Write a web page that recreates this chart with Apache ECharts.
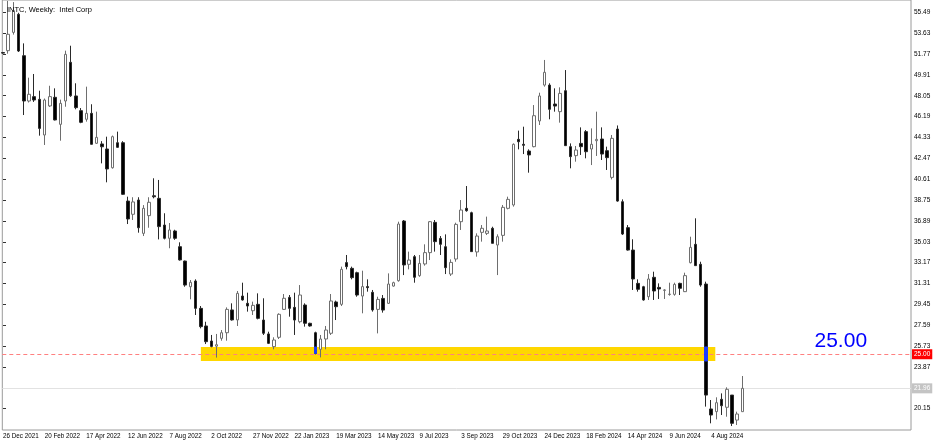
<!DOCTYPE html>
<html><head><meta charset="utf-8">
<script src="https://cdn.jsdelivr.net/npm/echarts@6/dist/echarts.min.js"></script>
<style>html,body{margin:0;padding:0;background:#fff}#c{width:936px;height:442px}</style>
</head><body><div id="c"></div><script>
// ---- data (weekly INTC) ----
const startDate = Date.UTC(2021, 11, 26);
const open = [51.9,52.07,53.70,55.31,51.62,47.58,47.97,47.73,44.55,47.14,
47.91,45.50,47.58,51.03,48.03,46.72,45.95,46.48,43.81,43.75,
43.30,41.63,43.86,43.86,38.66,37.48,38.75,35.78,37.36,39.13,
38.90,36.52,35.34,35.99,34.59,33.31,31.02,31.53,29.09,27.52,
26.18,25.72,26.42,26.92,28.95,28.06,30.19,29.54,28.88,29.45,
28.05,26.81,25.68,26.51,29.00,30.07,29.18,27.90,29.39,27.76,
26.92,25.44,26.36,26.87,29.66,29.45,33.17,32.66,32.27,30.19,
31.03,30.52,29.00,29.98,29.54,31.08,31.56,36.88,33.02,33.70,
32.01,33.05,34.06,36.76,35.33,34.59,32.15,33.49,36.82,38.01,
37.62,34.12,35.87,35.78,36.23,34.74,35.60,38.01,38.31,44.16,
43.72,43.12,43.51,45.80,49.00,49.00,47.31,46.63,48.50,43.51,
42.71,43.80,44.85,43.30,44.04,44.19,43.15,40.77,45.08,38.60,
36.29,34.29,31.32,31.02,30.13,31.86,30.96,30.70,30.33,30.34,
31.32,30.58,33.16,34.80,33.02,31.26,20.12,19.88,20.98,20.27,
21.36,19.13,19.88];
const high = [51.95,56.5,56.4,55.45,52.72,49.66,49.99,48.50,47.80,48.94,
48.71,47.70,52.07,52.51,49.16,46.95,48.86,47.29,46.63,44.00,
44.40,44.50,44.85,44.00,39.05,39.00,39.00,38.30,39.00,40.69,
40.54,37.57,36.70,36.10,34.98,33.35,31.62,31.68,29.30,27.90,
26.72,26.81,27.16,29.18,29.54,30.64,31.38,30.49,29.69,30.43,
29.99,27.01,26.51,28.65,30.37,30.28,30.49,31.17,29.54,27.81,
27.01,26.72,27.52,30.37,29.78,32.81,33.85,32.81,32.36,32.45,
31.68,30.73,30.13,30.28,32.21,31.47,36.82,36.97,34.15,33.85,
33.85,34.80,36.88,36.97,35.54,35.69,33.46,36.73,38.75,40.00,
37.71,35.78,36.52,37.27,36.37,35.69,38.31,39.05,43.80,44.94,
45.29,43.27,47.22,48.32,51.24,49.16,48.71,48.80,50.34,43.80,
43.57,45.23,44.99,45.14,46.63,45.23,43.51,44.55,45.40,38.81,
36.52,35.25,31.68,31.10,32.15,32.36,31.32,30.79,31.38,31.38,
31.38,32.27,35.48,37.12,33.25,31.47,20.92,21.16,21.51,22.05,
21.36,19.88,23.06];
const low = [51.8,51.8,53.5,51.95,46.33,47.45,47.50,44.49,43.66,47.05,
45.85,44.04,47.07,47.95,46.84,45.60,45.74,43.70,43.75,42.02,
40.33,41.55,43.40,39.20,36.61,36.97,35.84,35.54,36.28,38.90,
35.24,35.24,34.45,35.20,33.35,31.02,29.90,28.50,27.31,25.91,
25.62,24.70,26.21,26.21,28.00,27.52,29.78,28.80,28.50,28.11,
26.72,25.91,25.44,26.36,28.95,28.35,26.72,27.76,27.46,27.46,
24.99,24.72,25.44,26.72,28.05,29.30,32.57,31.68,30.13,28.65,
30.58,28.80,26.86,28.71,29.48,31.03,31.47,32.06,32.57,31.38,
31.90,32.90,33.40,34.15,33.85,32.15,31.98,33.25,36.08,37.71,
34.15,33.70,35.04,35.63,34.89,32.06,35.04,37.92,38.16,43.27,
42.85,41.19,43.45,45.44,48.86,45.95,46.63,45.65,43.60,41.58,
42.17,42.77,42.47,41.87,42.68,42.32,41.43,40.59,38.60,35.63,
34.24,30.73,30.58,29.78,29.84,29.84,29.93,29.93,30.22,30.22,
30.28,30.55,33.10,32.90,31.02,20.33,18.84,19.19,19.58,19.43,
18.60,18.69,19.88];
const close = [51.85,53.53,55.63,52.04,47.58,48.18,47.67,45.14,47.67,47.97,
45.89,47.37,51.74,48.05,46.99,45.68,46.48,43.72,44.34,43.50,
41.52,44.40,43.45,39.26,37.06,38.58,36.28,38.01,38.55,39.04,
36.38,35.34,36.08,35.34,33.41,31.17,31.41,29.09,27.46,26.12,
25.70,25.85,26.92,29.00,28.06,30.43,29.84,29.30,29.36,28.20,
26.87,25.97,26.27,28.56,29.99,29.09,28.05,30.28,27.76,27.52,
25.08,26.36,27.16,29.75,29.24,32.57,32.81,31.83,30.28,31.03,
30.94,28.95,29.89,28.94,31.26,31.38,36.61,32.96,33.40,31.86,
33.10,34.06,36.82,35.04,34.80,32.72,33.19,36.58,37.86,37.80,
34.15,35.54,36.23,35.99,34.89,35.48,38.10,38.81,43.72,43.95,
43.63,42.77,46.27,48.03,50.14,46.84,47.13,48.26,43.60,42.62,
43.21,43.51,43.06,43.72,44.16,42.85,42.53,44.25,38.66,35.72,
34.29,31.71,30.79,29.84,31.71,30.64,30.82,30.73,30.36,31.23,
30.88,32.01,34.53,32.90,31.17,21.36,19.58,20.68,20.41,21.87,
18.84,19.67,21.96];
const xTickLabels = ['26 Dec 2021','20 Feb 2022','17 Apr 2022','12 Jun 2022','7 Aug 2022','2 Oct 2022',
'27 Nov 2022','22 Jan 2023','19 Mar 2023','14 May 2023','9 Jul 2023','3 Sep 2023','29 Oct 2023',
'24 Dec 2023','18 Feb 2024','14 Apr 2024','9 Jun 2024','4 Aug 2024'];
const xTickStep = 8;
const yTickValues = [55.49,53.63,51.77,49.91,48.05,46.19,44.33,42.47,40.61,38.75,36.89,35.03,
33.17,31.31,29.45,27.59,25.73,23.87,20.15];
const levelPrice = 25.00;
const lastPrice = 21.96;
const zone = {fromBar: 38, toBar: 136.8, top: 25.645, bottom: 24.40};
const labelBar = 160.9;

// ---- derived ----
const mon = ['Jan','Feb','Mar','Apr','May','Jun','Jul','Aug','Sep','Oct','Nov','Dec'];
const categories = open.map((_, i) => {
  const d = new Date(startDate + i * 7 * 86400000);
  return d.getUTCDate() + ' ' + mon[d.getUTCMonth()] + ' ' + d.getUTCFullYear();
});
const candles = open.map((o, i) => [i, o, close[i], low[i], high[i]]);
const overlay = [];
open.forEach((o, i) => {
  if (i < zone.fromBar || i > zone.toBar || close[i] >= o) return;
  const t = Math.min(o, zone.top), b = Math.max(close[i], zone.bottom);
  if (t > b) overlay.push([i, t, b, b, t]);
});

const chart = echarts.init(document.getElementById('c'), null, {renderer: 'canvas'});
const FF = '"Liberation Sans", Arial, sans-serif';
chart.setOption({
  animation: false,
  backgroundColor: '#ffffff',
  title: {text: 'INTC, Weekly:  Intel Corp', left: 2, top: 1,
    textStyle: {fontSize: 7.5, fontWeight: 'normal', color: '#000', fontFamily: FF}},
  grid: {left: 0, top: 0, right: 25, bottom: 12, show: true, borderColor: '#9a9a9a', borderWidth: 1,
    backgroundColor: '#fff'},
  xAxis: {type: 'value', min: -0.134, max: 174.385,
    splitLine: {show: false}, axisLine: {show: false}, axisTick: {show: false},
    axisLabel: {customValues: xTickLabels.map((_, k) => k * xTickStep),
      formatter: v => xTickLabels[Math.round(v / xTickStep)],
      fontSize: 6.3, color: '#000', align: 'left', margin: 3, fontFamily: FF}},
  yAxis: {type: 'value', position: 'right', min: 18.245, max: 56.587, scale: true,
    splitLine: {show: false}, axisLine: {show: false},
    axisTick: {show: true, customValues: yTickValues, length: 3, lineStyle: {color: '#333'}},
    axisLabel: {customValues: yTickValues, formatter: v => v.toFixed(2),
      fontSize: 6.5, margin: 3, color: '#000', fontFamily: FF}},
  series: [
    {type: 'candlestick', name: 'INTC', data: candles, barWidth: 3, z: 2,
      itemStyle: {color: '#ffffff', color0: '#000000', borderColor: '#6e6e6e', borderColor0: '#2a2a2a', borderWidth: 1},
      markArea: {silent: true, z: 0,
        itemStyle: {color: '#ffd700'},
        data: [[{xAxis: zone.fromBar, yAxis: zone.top}, {xAxis: zone.toBar, yAxis: zone.bottom}]]},
      markLine: {silent: true, symbol: 'none', z: 1,
        data: [
          {yAxis: levelPrice, lineStyle: {color: '#ff8080', type: [4, 3], width: 1},
            label: {show: true, position: 'end', formatter: levelPrice.toFixed(2), color: '#fff',
              backgroundColor: '#ff0000', fontSize: 6.5, padding: [2, 2, 1, 2], distance: 1, fontFamily: FF}},
          {yAxis: lastPrice, lineStyle: {color: '#e2e2e2', type: 'solid', width: 1},
            label: {show: true, position: 'end', formatter: lastPrice.toFixed(2), color: '#fff',
              backgroundColor: '#c4c4c4', fontSize: 6.5, padding: [2, 2, 1, 2], distance: 1, fontFamily: FF}}
        ]},
      markPoint: {silent: true, symbol: 'circle', symbolSize: 1, itemStyle: {color: 'rgba(0,0,0,0)'},
        data: [{coord: [labelBar, levelPrice],
          label: {show: true, formatter: levelPrice.toFixed(2), fontSize: 21, color: '#0000ff',
            offset: [0, -13.5], fontFamily: FF}}]}
    },
    {type: 'candlestick', name: 'zone', data: overlay, barWidth: 3, z: 3, silent: true,
      itemStyle: {color: '#1a3cff', color0: '#1a3cff', borderColor: '#1a3cff', borderColor0: '#1a3cff', borderWidth: 1}}
  ]
});
</script></body></html>
